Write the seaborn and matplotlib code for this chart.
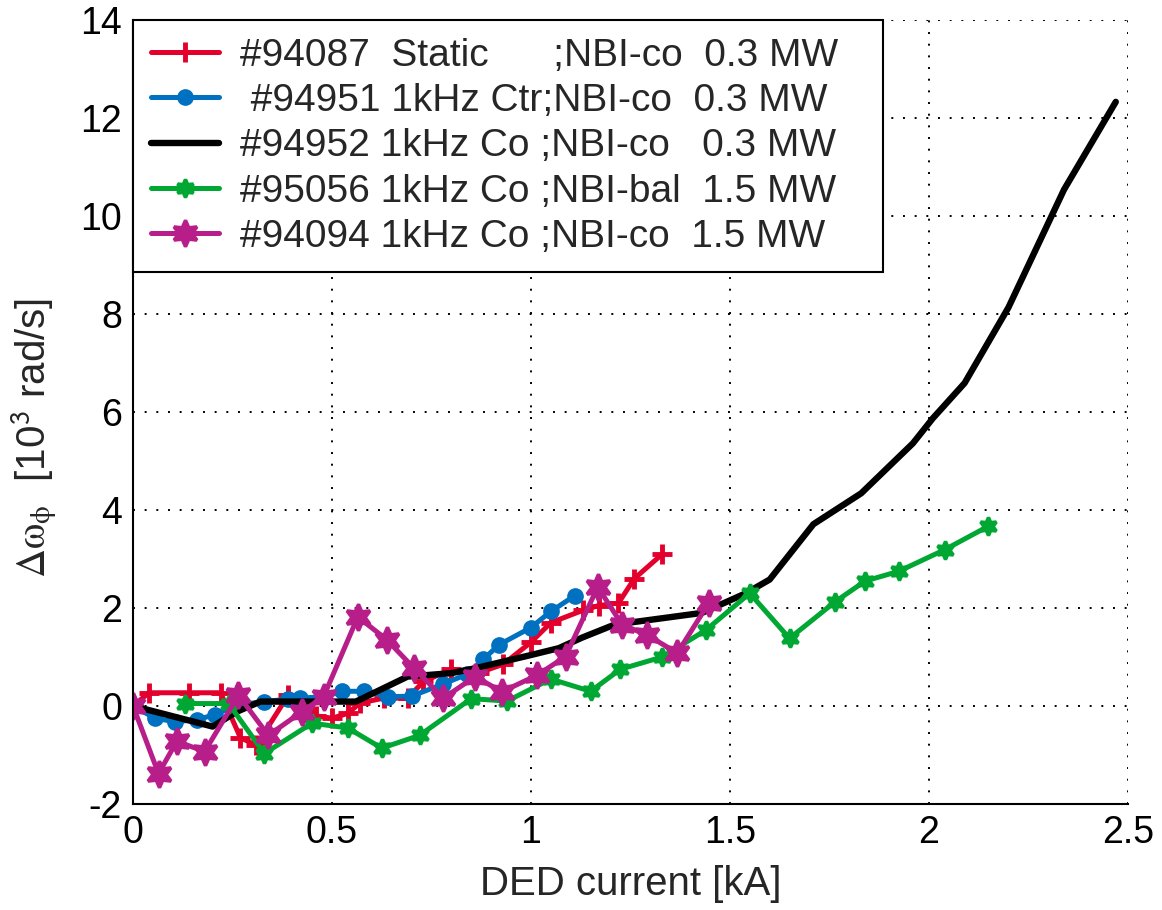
import matplotlib
matplotlib.use("Agg")
import matplotlib.pyplot as plt
import seaborn as sns

# DED current [kA] and toroidal rotation change [10^3 rad/s] for each shot
static_x = [0, 0.04, 0.14, 0.22, 0.27, 0.31, 0.39, 0.43, 0.46, 0.50, 0.54, 0.57,
            0.63, 0.69, 0.73, 0.80, 0.87, 0.93, 1.0, 1.05, 1.13, 1.17, 1.22, 1.26, 1.33]
static_y = [0, 0.27, 0.27, 0.27, -0.65, -0.8, 0.22, -0.08, -0.2, -0.25, -0.15, 0.06,
            0.16, 0.16, 0.5, 0.75, 0.68, 0.85, 1.3, 1.7, 1.95, 2.05, 2.1, 2.6, 3.1]

ctr_x = [0, 0.055, 0.105, 0.16, 0.205, 0.26, 0.33, 0.39, 0.42, 0.48, 0.525, 0.58,
         0.64, 0.70, 0.78, 0.84, 0.88, 0.92, 1.0, 1.05, 1.11]
ctr_y = [0, -0.25, -0.32, -0.28, -0.18, 0.02, 0.09, 0.14, 0.16, 0.19, 0.3, 0.3,
         0.19, 0.2, 0.45, 0.65, 0.95, 1.25, 1.6, 1.93, 2.25]

co_x = [0, 0.2, 0.26, 0.32, 0.56, 0.69, 0.8, 0.86, 1.0, 1.07, 1.13, 1.21, 1.43,
        1.54, 1.6, 1.71, 1.83, 1.96, 2.01, 2.09, 2.2, 2.34, 2.47]
co_y = [0, -0.42, -0.12, 0.09, 0.09, 0.6, 0.67, 0.77, 1.04, 1.18, 1.4, 1.66, 1.9,
        2.3, 2.58, 3.71, 4.34, 5.36, 5.87, 6.59, 8.13, 10.54, 12.33]

bal_x = [0.13, 0.24, 0.33, 0.45, 0.54, 0.625, 0.72, 0.85, 0.94, 1.05, 1.15, 1.225,
         1.33, 1.44, 1.55, 1.65, 1.765, 1.84, 1.925, 2.04, 2.15]
bal_y = [0.05, 0.05, -0.97, -0.35, -0.45, -0.86, -0.6, 0.15, 0.1, 0.55, 0.3, 0.75,
         1.0, 1.55, 2.3, 1.38, 2.13, 2.55, 2.75, 3.19, 3.67]

nbi_x = [0, 0.064, 0.11, 0.18, 0.265, 0.34, 0.424, 0.479, 0.565, 0.638, 0.705, 0.78,
         0.86, 0.927, 1.016, 1.087, 1.168, 1.229, 1.292, 1.368, 1.447]
nbi_y = [0, -1.38, -0.72, -0.93, 0.22, -0.6, -0.12, 0.19, 1.82, 1.35, 0.78, 0.16,
         0.6, 0.29, 0.63, 1.01, 2.43, 1.66, 1.45, 1.08, 2.1]

labels = [
    "#94087  Static      ;NBI-co  0.3 MW",
    " #94951 1kHz Ctr;NBI-co  0.3 MW",
    "#94952 1kHz Co ;NBI-co   0.3 MW",
    "#95056 1kHz Co ;NBI-bal  1.5 MW",
    "#94094 1kHz Co ;NBI-co  1.5 MW",
]
x_ticks = [0, 0.5, 1, 1.5, 2, 2.5]
x_ticklabels = ["0", "0.5", "1", "1.5", "2", "2.5"]
y_ticks = [-2, 0, 2, 4, 6, 8, 10, 12, 14]

sns.set_theme(style="white")
plt.rcParams["font.family"] = ["Liberation Sans", "DejaVu Sans"]
plt.rcParams["axes.unicode_minus"] = False
plt.rcParams["mathtext.fontset"] = "stix"

fig = plt.figure(figsize=(11.62, 9.10), dpi=100)
ax = fig.add_axes([0.1145, 0.1165, 0.856, 0.8615])

star6 = (6, 1, 0)
series = [
    (static_x, static_y, "#E3002D", "+", 15, 3.5, 3.6),
    (ctr_x, ctr_y, "#0070C0", "o", 11, 1.0, 3.6),
    (co_x, co_y, "black", None, 0, 0, 4.6),
    (bal_x, bal_y, "#00A833", star6, 13, 2.5, 3.6),
    (nbi_x, nbi_y, "#B81E8A", star6, 19, 2.5, 3.6),
]
for (xs, ys, col, mk, ms, mew, lw), lab in zip(series, labels):
    sns.lineplot(x=xs, y=ys, ax=ax, color=col, marker=mk, markersize=ms,
                 markeredgewidth=mew, markeredgecolor=col, linewidth=lw,
                 sort=False, estimator=None, label=lab)

ax.set_xlim(0, 2.5)
ax.set_ylim(-2, 14)
ax.set_xticks(x_ticks)
ax.set_xticklabels(x_ticklabels)
ax.set_yticks(y_ticks)
ax.tick_params(axis="both", direction="in", length=9, width=1.2,
               labelsize=27, pad=8, colors="black")
ax.grid(True, color="black", linestyle=(0, (1, 5)), linewidth=1.4)
for side in ("top", "right"):
    ax.spines[side].set_visible(False)
for side in ("left", "bottom"):
    ax.spines[side].set_color("black")
    ax.spines[side].set_linewidth(1.5)

ax.set_xlabel("DED current [kA]", fontsize=29, labelpad=10)
ax.set_ylabel(r"$\mathrm{\Delta\omega_{\phi}}$  [10$^{\mathsf{3}}$ rad/s]",
              fontsize=29)
ax.yaxis.set_label_coords(-0.074, 0.467)

leg = ax.legend(loc="upper left", bbox_to_anchor=(0, 0.5, 0.754, 0.5),
                mode="expand", borderaxespad=0,
                fontsize=28, frameon=True, fancybox=False, framealpha=1,
                edgecolor="black", handlelength=1.75, handletextpad=0.55,
                labelspacing=0.24, borderpad=0.45)
leg.get_frame().set_linewidth(1.5)

fig.savefig("out.png", dpi=100)
